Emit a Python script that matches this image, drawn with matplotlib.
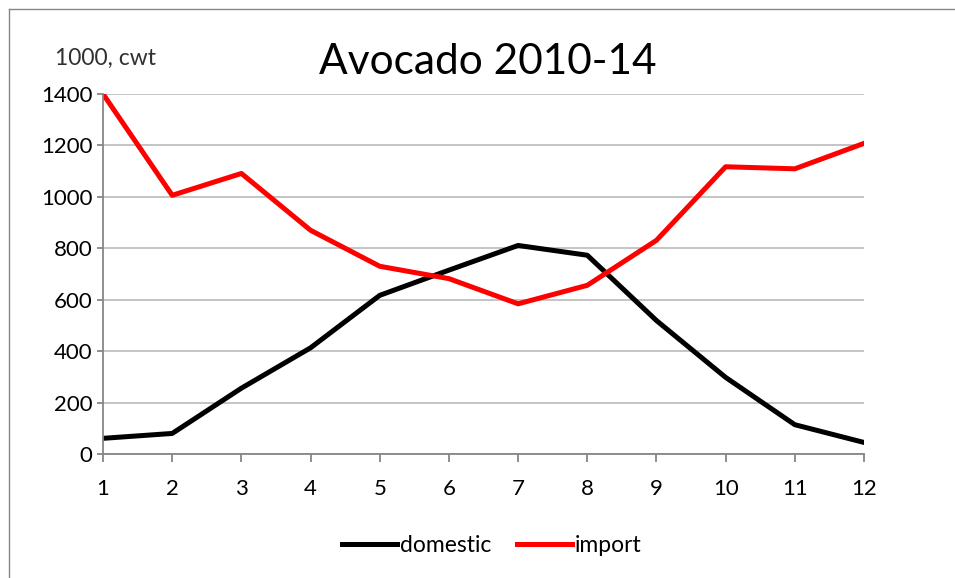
import numpy as np
import matplotlib
matplotlib.use("Agg")
import matplotlib.pyplot as plt
from matplotlib.lines import Line2D

# monthly data, 1000 cwt
months = [1, 2, 3, 4, 5, 6, 7, 8, 9, 10, 11, 12]
domestic = [61, 80, 256, 413, 617, 715, 811, 773, 519, 298, 114, 45]
imports = [1400, 1006, 1091, 870, 730, 682, 584, 656, 831, 1117, 1109, 1208]

plt.rcParams['font.family'] = ['Lato', 'DejaVu Sans']

fig = plt.figure(figsize=(9.55, 5.78), dpi=100)
ax = fig.add_axes([0.1079, 0.2145, 0.7968, 0.6229])

ax.plot(months, domestic, color='black', lw=3.6, label='domestic')
ax.plot(months, imports, color='#ff0000', lw=3.6, label='import')

ax.set_xlim(1, 12)
ax.set_ylim(0, 1400)
ax.set_xticks(months)
ax.set_yticks(np.arange(0, 1401, 200))
ax.yaxis.grid(True, color='#bfbfbf', lw=1.3)
ax.set_axisbelow(True)
for s in ['top', 'right']:
    ax.spines[s].set_visible(False)
for s in ['left', 'bottom']:
    ax.spines[s].set_color('#868686')
    ax.spines[s].set_linewidth(1.3)
ax.tick_params(axis='both', colors='#868686', width=1.3, labelsize=16, labelcolor='black')
ax.tick_params(axis='x', length=6, pad=12)
ax.tick_params(axis='y', length=4.5, pad=3)

fig.text(0.511, 0.892, 'Avocado 2010-14', ha='center', va='center', fontsize=30.5)
fig.text(0.058, 0.899, '1000, cwt', ha='left', va='center', fontsize=16.5, color='#303030')

leg = fig.legend(loc='center', bbox_to_anchor=(0.515, 0.057), ncol=2, frameon=False,
                 fontsize=16.5, handlelength=2.4, handletextpad=0.15, columnspacing=1.1)

# outer chart border (only left and top edges fall inside the image)
fig.add_artist(Line2D([0.009, 0.009], [0.0, 0.985], transform=fig.transFigure,
                      color='#868686', lw=1.0))
fig.add_artist(Line2D([0.009, 1.0], [0.985, 0.985], transform=fig.transFigure,
                      color='#868686', lw=1.0))

plt.savefig('out.png', dpi=100)
